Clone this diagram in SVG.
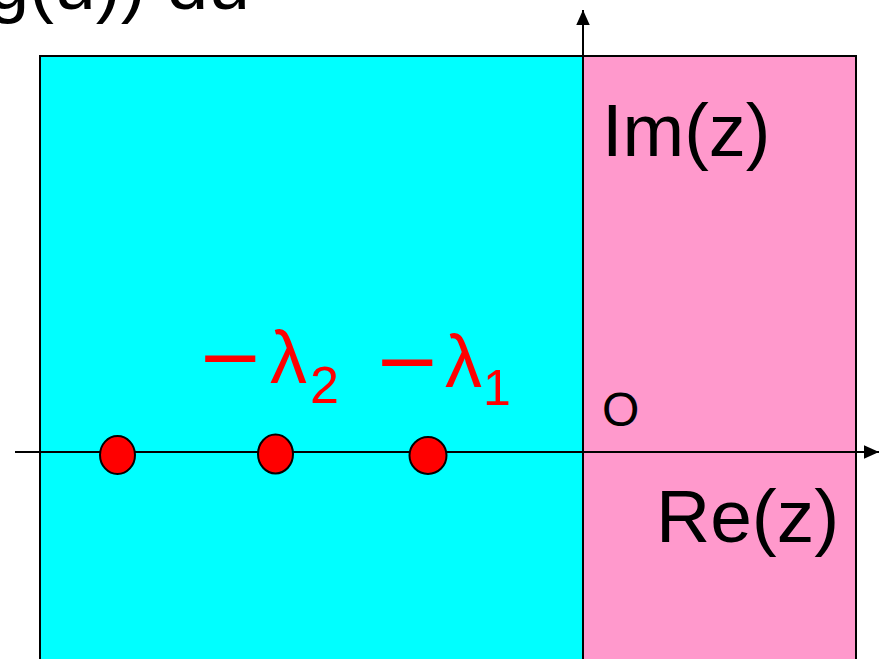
<svg xmlns="http://www.w3.org/2000/svg" width="879" height="659" viewBox="0 0 879 659">
<defs>
<marker id="arr" viewBox="0 0 10 10" refX="10" refY="5" markerWidth="15" markerHeight="15" markerUnits="userSpaceOnUse" orient="auto">
<path d="M0,0.5 L10,5 L0,9.5 z" fill="#000"/>
</marker>
<style>
.t{font-family:"Liberation Sans",Arial,sans-serif;fill:#000}
.r{font-family:"Liberation Sans",Arial,sans-serif;fill:#FF0000}
.m{font-family:"DejaVu Sans",sans-serif;fill:#FF0000}
.dot{fill:#FF0000;stroke:#000;stroke-width:2}
.ax{stroke:#000;stroke-width:2;fill:none}
</style>
</defs>
<rect width="879" height="659" fill="#fff"/>
<g id="title"><text class="t" x="250" y="9" font-size="75" text-anchor="end">g(u)) du</text></g>
<g id="left-half"><rect x="40" y="56" width="543" height="620" fill="#00FFFF" stroke="#000" stroke-width="2"/></g>
<g id="right-half"><rect x="583" y="56" width="273" height="620" fill="#FF99CC" stroke="#000" stroke-width="2"/></g>
<g id="connectors">
<line class="ax" x1="583" y1="670" x2="583" y2="10" stroke-width="2.5" marker-end="url(#arr)"/>
<line class="ax" x1="15" y1="452" x2="879" y2="452" marker-end="url(#arr)"/>
</g>
<g id="label-im"><text class="t" x="602" y="156" font-size="74">Im(z)</text></g>
<g id="label-re"><text class="t" x="656" y="542" font-size="75">Re(z)</text></g>
<g id="label-o"><text class="t" x="602" y="426" font-size="48">O</text></g>
<g id="label-l2">
<text class="m" x="196.5" y="384" font-size="80">−</text>
<text class="r" x="270" y="383" font-size="74">λ</text>
<text class="r" x="310" y="403" font-size="52">2</text>
</g>
<g id="label-l1">
<text class="m" x="373.5" y="388" font-size="80">−</text>
<text class="r" x="445" y="387" font-size="74">λ</text>
<text class="r" x="483" y="405" font-size="50">1</text>
</g>
<g id="pole3"><ellipse class="dot" cx="117.5" cy="455" rx="17.5" ry="19"/></g>
<g id="pole2"><ellipse class="dot" cx="275.5" cy="454" rx="17.5" ry="19.5"/></g>
<g id="pole1"><ellipse class="dot" cx="428" cy="455.5" rx="18.5" ry="18.5"/></g>
</svg>
